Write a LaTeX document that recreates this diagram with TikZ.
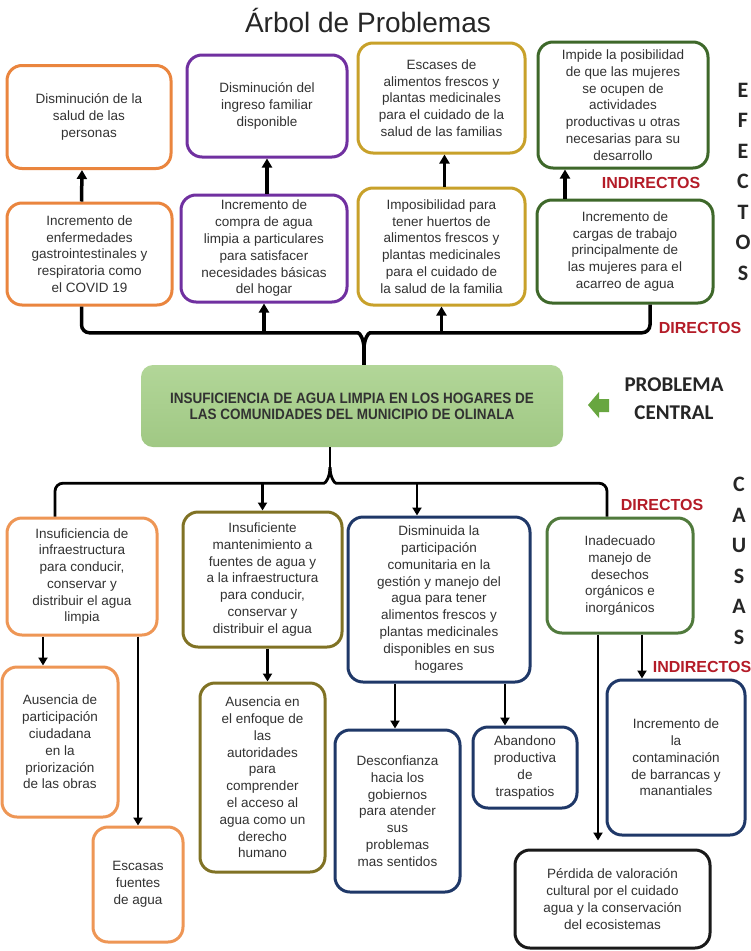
\documentclass[tikz,border=0pt]{standalone}
\usepackage{fontspec}
\setmainfont{Liberation Sans}
\newfontfamily\calfont{Carlito}
\newfontfamily\narrowfont[FakeStretch=0.9]{Liberation Sans}
\usetikzlibrary{arrows.meta}

\definecolor{cOrange}{RGB}{234,133,62}
\definecolor{cOrangeL}{RGB}{238,150,85}
\definecolor{cPurple}{RGB}{112,48,160}
\definecolor{cGold}{RGB}{200,161,42}
\definecolor{cGreen}{RGB}{62,104,42}
\definecolor{cGreenL}{RGB}{80,122,60}
\definecolor{cOlive}{RGB}{128,114,36}
\definecolor{cNavy}{RGB}{31,56,104}
\definecolor{cRed}{RGB}{180,28,40}
\definecolor{cText}{RGB}{50,50,50}
\definecolor{cArrow}{RGB}{104,166,64}

\begin{document}
\begin{tikzpicture}[x=1pt, y=-1pt,
  box/.style={draw=#1, line width=3pt, rounded corners=15pt, fill=white, inner sep=0pt,
    align=center, text=cText, font={\fontsize{13.5}{16.8}\selectfont}},
  etiqueta/.style={text=cRed, font={\bfseries\fontsize{16}{16}\selectfont}},
  vword/.style={align=center, text=black!85, font={\calfont\bfseries\fontsize{22}{30.5}\selectfont}},
  arr/.style={line width=3.5pt, -{Triangle[length=9pt,width=10pt]}},
  arrs/.style={line width=2.8pt, -{Triangle[length=8pt,width=9pt]}},
  rama/.style={line width=#1}]
% Page of 751 x 951 px, 1px = 1pt, y grows downwards
\useasboundingbox[fill=white] (0,0) rectangle (751,951);

\node[anchor=base, text=black!85, font={\fontsize{28}{30}\selectfont}] (titulo) at (368,32) {Árbol de Problemas};

% Efectos indirectos
\node[box=cOrange, minimum width=164pt, minimum height=103pt] (indSalud) at (89,117) {Disminución de la\\salud de las\\personas};
\node[box=cPurple, minimum width=160pt, minimum height=102pt] (indIngreso) at (267,106) {Disminución del\\ingreso familiar\\disponible};
\node[box=cGold, minimum width=167pt, minimum height=110pt] (indAlimentos) at (441.5,98) {Escases de\\alimentos frescos y\\plantas medicinales\\para el cuidado de la\\salud de las familias};
\node[box=cGreen, minimum width=170pt, minimum height=126pt] (indMujeres) at (623,105) {Impide la posibilidad\\de que las mujeres\\se ocupen de\\actividades\\productivas u otras\\necesarias para su\\desarrollo};

% Efectos directos
\node[box=cOrange, minimum width=165pt, minimum height=102pt] (dirEnfermedades) at (89.5,254) {Incremento de\\enfermedades\\gastrointestinales y\\respiratoria como\\el COVID 19};
\node[box=cPurple, minimum width=166pt, minimum height=107pt] (dirCompra) at (264,248.5) {Incremento de\\compra de agua\\limpia a particulares\\para satisfacer\\necesidades básicas\\del hogar};
\node[box=cGold, minimum width=167pt, minimum height=117pt] (dirHuertos) at (441.5,246.5) {Imposibilidad para\\tener huertos de\\alimentos frescos y\\plantas medicinales\\para el cuidado de\\la salud de la familia};
\node[box=cGreen, minimum width=176pt, minimum height=103pt] (dirCargas) at (625,251.5) {Incremento de\\cargas de trabajo\\principalmente de\\las mujeres para el\\acarreo de agua};

\draw[arr] ([xshift=-8pt]dirEnfermedades.north) -- ([xshift=-7pt]indSalud.south);
\draw[arr] ([xshift=3pt]dirCompra.north) -- (indIngreso.south);
\draw[arr] ([xshift=3pt]dirHuertos.north) -- ([xshift=3pt]indAlimentos.south);
\draw[arr] ([xshift=-60pt]dirCargas.north) -- ([xshift=-58pt]indMujeres.south);

\node[etiqueta] (lblIndTop) at (651,183) {INDIRECTOS};
\node[etiqueta] (lblDirTop) at (700,328) {DIRECTOS};
\node[vword] (efectos) at (743,181.5) {E\\F\\E\\C\\T\\O\\S};

% Problema central
\node[rounded corners=12pt, top color={rgb,255:red,178;green,214;blue,152}, bottom color={rgb,255:red,160;green,200;blue,132},
  minimum width=422pt, minimum height=82pt, align=center, text=cText,
  font={\narrowfont\bfseries\fontsize{15}{16}\selectfont}] (problema) at (352,406)
  {INSUFICIENCIA DE AGUA LIMPIA EN LOS HOGARES DE\\LAS COMUNIDADES DEL MUNICIPIO DE OLINALA};
\fill[cArrow] (588,405) -- (599,392) -- (599,399) -- (609,399) -- (609,412) -- (599,412) -- (599,418) -- cycle;
\node[align=center, text=black!85, font={\calfont\bfseries\fontsize{21}{28}\selectfont}] (lblCentral) at (674,398.5) {PROBLEMA\\CENTRAL};

% Llave superior
\coordinate (tipTop) at ([xshift=12pt,yshift=16pt]problema.north);
\coordinate (barTop) at ([yshift=16pt]tipTop);
\draw[rama=3.5pt] ([xshift=-8pt]dirEnfermedades.south) [rounded corners=8pt] |- ([xshift=-14pt]barTop)
  [sharp corners] .. controls +(10,0) and +(0,-9) .. (tipTop);
\draw[rama=3.5pt] ([xshift=25pt]dirCargas.south) [rounded corners=8pt] |- ([xshift=14pt]barTop)
  [sharp corners] .. controls +(-10,0) and +(0,-9) .. (tipTop);
\draw[rama=3.5pt] (tipTop) -- ([xshift=12pt]problema.north);
\draw[arr] (barTop -| dirCompra.south) -- (dirCompra.south);
\draw[arr] (barTop -| dirHuertos.south) -- (dirHuertos.south);

% Causas directas
\node[box=cOrangeL, minimum width=150pt, minimum height=117pt] (cInfra) at (82,576.5) {Insuficiencia de\\infraestructura\\para conducir,\\conservar y\\distribuir el agua\\limpia};
\node[box=cOlive, minimum width=159pt, minimum height=135pt] (cMant) at (262.5,579.5) {Insuficiente\\mantenimiento a\\fuentes de agua y\\a la infraestructura\\para conducir,\\conservar y\\distribuir el agua};
\node[box=cNavy, minimum width=182pt, minimum height=165pt] (cPart) at (439,599.5) {Disminuida la\\participación\\comunitaria en la\\gestión y manejo del\\agua para tener\\alimentos frescos y\\plantas medicinales\\disponibles en sus\\hogares};
\node[box=cGreenL, minimum width=146pt, minimum height=115pt] (cDesechos) at (620,575.5) {Inadecuado\\manejo de\\desechos\\orgánicos e\\inorgánicos};

% Llave inferior
\coordinate (tipBot) at ([xshift=-22pt,yshift=-20pt]problema.south);
\coordinate (barBot) at ([yshift=-16pt]tipBot);
\coordinate (inPart) at ([xshift=-22pt]cPart.north);
\draw[rama=2.8pt] ([xshift=-27pt]cInfra.north) [rounded corners=8pt] |- ([xshift=-14pt]barBot)
  [sharp corners] .. controls +(10,0) and +(0,9) .. (tipBot);
\draw[rama=2.8pt] ([xshift=-13pt]cDesechos.north) [rounded corners=8pt] |- ([xshift=14pt]barBot)
  [sharp corners] .. controls +(-10,0) and +(0,9) .. (tipBot);
\draw[rama=2.8pt] ([xshift=-22pt]problema.south) -- (tipBot);
\draw[arrs] (barBot -| cMant.north) -- (cMant.north);
\draw[arrs] (barBot -| inPart) -- (inPart);

\node[etiqueta] (lblDirBot) at (662,505) {DIRECTOS};
\node[etiqueta] (lblIndBot) at (702,667) {INDIRECTOS};
\node[vword] (causas) at (739,561) {C\\A\\U\\S\\A\\S};

% Causas indirectas
\node[box=cOrangeL, minimum width=116pt, minimum height=150pt] (sCiudadana) at (60,742) {Ausencia de\\participación\\ciudadana\\en la\\priorización\\de las obras};
\node[box=cOrangeL, minimum width=90pt, minimum height=115pt] (sFuentes) at (138,884.5) {Escasas\\fuentes\\de agua};
\node[box=cOlive, minimum width=125pt, minimum height=189pt] (sEnfoque) at (262.5,777.5) {Ausencia en\\el enfoque de\\las\\autoridades\\para\\comprender\\el acceso al\\agua como un\\derecho\\humano};
\node[box=cNavy, minimum width=125pt, minimum height=162pt] (sDesconfianza) at (397.5,811) {Desconfianza\\hacia los\\gobiernos\\para atender\\sus\\problemas\\mas sentidos};
\node[box=cNavy, minimum width=104pt, minimum height=81pt] (sTraspatios) at (525,767.5) {Abandono\\productiva\\de\\traspatios};
\node[box=cNavy, minimum width=138pt, minimum height=155pt] (sContaminacion) at (676,757.5) {Incremento de\\la\\contaminación\\de barrancas y\\manantiales};
\node[box=black!90, minimum width=195pt, minimum height=98pt] (sValoracion) at (612.5,899) {Pérdida de valoración\\cultural por el cuidado\\agua y la conservación\\del ecosistemas};

\draw[arrs] ([xshift=-39pt]cInfra.south) -- ([xshift=-17pt]sCiudadana.north);
\draw[arrs] ([xshift=56pt]cInfra.south) -- (sFuentes.north);
\draw[arrs] ([xshift=5pt]cMant.south) -- ([xshift=5pt]sEnfoque.north);
\draw[arrs] ([xshift=-44pt]cPart.south) -- ([xshift=-2.5pt]sDesconfianza.north);
\draw[arrs] ([xshift=66pt]cPart.south) -- ([xshift=-20pt]sTraspatios.north);
\draw[arrs] ([xshift=22pt]cDesechos.south) -- ([xshift=-34pt]sContaminacion.north);
\draw[arrs, shorten >=8pt] ([xshift=-22pt]cDesechos.south) -- ([xshift=-14.5pt]sValoracion.north);
\end{tikzpicture}
\end{document}
